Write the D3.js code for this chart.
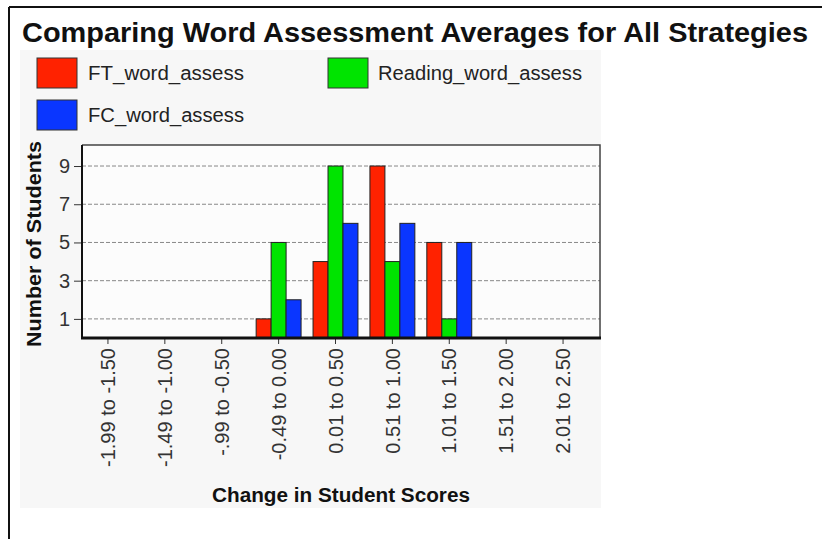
<!DOCTYPE html>
<html>
<head>
<meta charset="utf-8">
<script src="https://cdn.jsdelivr.net/npm/d3@7"></script>
<style>
  body { margin: 0; background: #fff; }
  text { font-family: "Liberation Sans", Arial, sans-serif; }
</style>
</head>
<body>
<svg id="chart" width="822" height="539"></svg>
<script>
const categories = ["-1.99 to -1.50", "-1.49 to -1.00", "-.99 to -0.50", "-0.49 to 0.00",
  "0.01 to 0.50", "0.51 to 1.00", "1.01 to 1.50", "1.51 to 2.00", "2.01 to 2.50"];
const seriesNames = ["FT_word_assess", "Reading_word_assess", "FC_word_assess"];
const ftValues = [0, 0, 0, 1, 4, 9, 5, 0, 0];
const readingValues = [0, 0, 0, 5, 9, 4, 1, 0, 0];
const fcValues = [0, 0, 0, 2, 6, 6, 5, 0, 0];
const yTicks = [1, 3, 5, 7, 9];
const colors = ["#ff2200", "#00e400", "#0a36ff"];

const seriesValues = [ftValues, readingValues, fcValues];
const svg = d3.select("#chart");

// outer frame
svg.append("line").attr("x1", 9).attr("x2", 822).attr("y1", 7).attr("y2", 7)
  .attr("stroke", "#111").attr("stroke-width", 2);
svg.append("line").attr("x1", 9).attr("x2", 9).attr("y1", 7).attr("y2", 539)
  .attr("stroke", "#111").attr("stroke-width", 2);

// chart background
svg.append("rect").attr("x", 20).attr("y", 50).attr("width", 581).attr("height", 458)
  .attr("fill", "#f7f7f7");

// title
svg.append("text").attr("x", 22).attr("y", 42)
  .attr("font-size", 28).attr("font-weight", "bold").attr("fill", "#111")
  .attr("textLength", 786).attr("lengthAdjust", "spacingAndGlyphs")
  .text("Comparing Word Assessment Averages for All Strategies");

// legend
const legendPos = [[37, 58, 88, 156], [328, 58, 378, 204], [37, 100, 88, 156]];
seriesNames.forEach((name, i) => {
  const [sx, sy, tx, tl] = legendPos[i];
  svg.append("rect").attr("x", sx).attr("y", sy).attr("width", 40).attr("height", 30)
    .attr("fill", colors[i]).attr("stroke", "#333").attr("stroke-width", 1);
  svg.append("text").attr("x", tx).attr("y", sy + 22)
    .attr("font-size", 20).attr("fill", "#222")
    .attr("textLength", tl).attr("lengthAdjust", "spacingAndGlyphs")
    .text(name);
});

// plot area
const plot = { left: 82, right: 600, top: 145, bottom: 338 };
svg.append("rect").attr("x", plot.left).attr("y", plot.top)
  .attr("width", plot.right - plot.left).attr("height", plot.bottom - plot.top)
  .attr("fill", "#fcfcfc");

const x0 = d3.scaleBand().domain(categories).range([79.5, 591.5]).padding(0);
const x1 = d3.scaleBand().domain(seriesNames).range([0, x0.bandwidth()])
  .paddingInner(0).paddingOuter(0.4);
const y = d3.scaleLinear().domain([0, 10.1]).range([plot.bottom, plot.top]);

// grid
svg.append("g").selectAll("line").data(yTicks).join("line")
  .attr("x1", plot.left).attr("x2", plot.right)
  .attr("y1", d => y(d)).attr("y2", d => y(d))
  .attr("stroke", "#888").attr("stroke-width", 1).attr("stroke-dasharray", "4,2");

// bars
const groups = svg.append("g").selectAll("g").data(categories).join("g")
  .attr("transform", d => `translate(${x0(d)},0)`);
groups.selectAll("rect")
  .data((c, ci) => seriesNames.map((s, si) => ({ s, si, v: seriesValues[si][ci] })).filter(d => d.v > 0))
  .join("rect")
  .attr("x", d => x1(d.s))
  .attr("width", x1.bandwidth())
  .attr("y", d => y(d.v))
  .attr("height", d => y(0) - y(d.v))
  .attr("fill", d => colors[d.si])
  .attr("stroke", "#222").attr("stroke-width", 1);

// frame top/right
svg.append("path")
  .attr("d", `M${plot.left},${plot.top}H${plot.right}V${plot.bottom}`)
  .attr("fill", "none").attr("stroke", "#444").attr("stroke-width", 1.5);

// y axis
const yAxis = svg.append("g").attr("transform", `translate(${plot.left},0)`)
  .call(d3.axisLeft(y).tickValues(yTicks).tickSize(8).tickSizeOuter(0).tickPadding(4));
yAxis.select(".domain").remove();
yAxis.append("line").attr("x1", 0).attr("x2", 0).attr("y1", plot.top).attr("y2", plot.bottom)
  .attr("stroke", "#111").attr("stroke-width", 2);
yAxis.selectAll(".tick line").attr("stroke", "#333");
yAxis.selectAll(".tick text").attr("font-size", 20).attr("fill", "#333")
  .attr("font-family", "Liberation Sans, Arial, sans-serif");

// x axis
const xAxis = svg.append("g").attr("transform", `translate(0,${plot.bottom})`)
  .call(d3.axisBottom(x0).tickSize(6).tickSizeOuter(0));
xAxis.select(".domain").remove();
xAxis.append("line").attr("x1", plot.left - 1).attr("x2", plot.right + 1).attr("y1", 0).attr("y2", 0)
  .attr("stroke", "#111").attr("stroke-width", 3);
xAxis.selectAll(".tick line").attr("stroke", "#333");
xAxis.selectAll(".tick text")
  .attr("font-size", 20).attr("fill", "#333")
  .attr("font-family", "Liberation Sans, Arial, sans-serif")
  .attr("transform", "rotate(-90)")
  .attr("text-anchor", "end")
  .attr("x", -10).attr("y", 0).attr("dy", "0.36em");

// axis titles
svg.append("text")
  .attr("transform", "translate(41,244) rotate(-90)")
  .attr("text-anchor", "middle")
  .attr("font-size", 21).attr("font-weight", "bold").attr("fill", "#111")
  .attr("textLength", 206).attr("lengthAdjust", "spacingAndGlyphs")
  .text("Number of Students");
svg.append("text")
  .attr("x", 341).attr("y", 502)
  .attr("text-anchor", "middle")
  .attr("font-size", 20).attr("font-weight", "bold").attr("fill", "#111")
  .attr("textLength", 258).attr("lengthAdjust", "spacingAndGlyphs")
  .text("Change in Student Scores");
</script>
</body>
</html>
